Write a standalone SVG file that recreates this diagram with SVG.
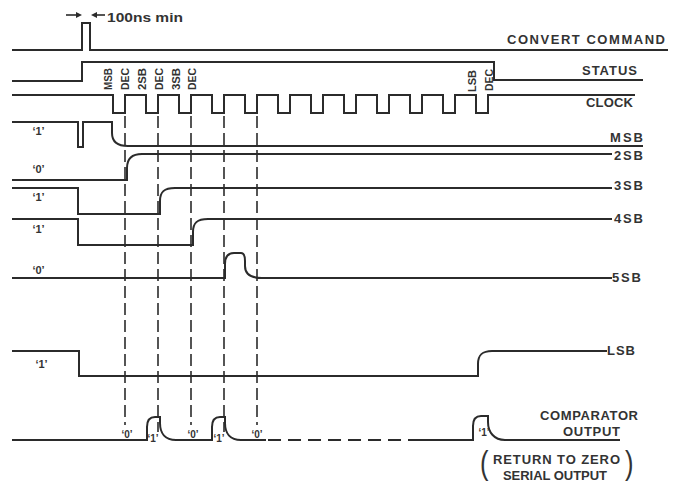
<svg xmlns="http://www.w3.org/2000/svg" width="677" height="483" viewBox="0 0 677 483">
<style>
.sig{fill:none;stroke:#2b2b2b;stroke-width:2;stroke-linejoin:miter}
.dash{fill:none;stroke:#2b2b2b;stroke-width:1.6;stroke-dasharray:12 5}
.dash2{fill:none;stroke:#2b2b2b;stroke-width:2;stroke-dasharray:13 7}
.lbl{font-family:"Liberation Sans",Arial,sans-serif;font-weight:bold;fill:#333;font-size:13px}
.sm{font-family:"Liberation Sans",Arial,sans-serif;font-weight:bold;fill:#333;font-size:11px}
.rot{font-family:"Liberation Sans",Arial,sans-serif;font-weight:bold;fill:#333;font-size:10px}
.cmp{font-family:"Liberation Sans",Arial,sans-serif;font-weight:bold;fill:#333;font-size:10px;text-anchor:middle}
.par{font-family:"Liberation Sans",Arial,sans-serif;fill:#333;font-size:34px}
</style>
<rect width="677" height="483" fill="#fff"/>

<g id="convert-command">
<path class="sig" d="M12,50 H82 V23 H90 V50 H668"/>
<line x1="66" y1="15" x2="77" y2="15" stroke="#2b2b2b" stroke-width="1.6"/>
<polygon points="76,12 82,15 76,18" fill="#2b2b2b"/>
<line x1="95" y1="15" x2="105" y2="15" stroke="#2b2b2b" stroke-width="1.6"/>
<polygon points="97,12 91,15 97,18" fill="#2b2b2b"/>
<text class="lbl" x="107" y="22" textLength="76" lengthAdjust="spacingAndGlyphs">100ns min</text>
<text class="lbl" x="507" y="44" textLength="158" lengthAdjust="spacing">CONVERT COMMAND</text>
</g>

<g id="status">
<path class="sig" d="M12,81 H82 V62 H494 V80 H643"/>
<text class="lbl" x="582" y="75" textLength="55" lengthAdjust="spacing">STATUS</text>
</g>

<g id="clock">
<path class="sig" d="M12,95 H113 V113 H125 V95 H146 V113 H158 V95 H179 V113 H191 V95 H212 V113 H224 V95 H245 V113 H257 V95 H278 V113 H290 V95 H311 V113 H323 V95 H344 V113 H356 V95 H377 V113 H389 V95 H410 V113 H422 V95 H443 V113 H455 V95 H476 V113 H488 V95 H635"/>
<text class="lbl" x="586" y="107" textLength="47" lengthAdjust="spacing">CLOCK</text>
<text class="rot" transform="translate(111.5,90) rotate(-90)" textLength="22" lengthAdjust="spacingAndGlyphs">MSB</text>
<text class="rot" transform="translate(128.5,90) rotate(-90)" textLength="22" lengthAdjust="spacingAndGlyphs">DEC</text>
<text class="rot" transform="translate(145.5,90) rotate(-90)" textLength="22" lengthAdjust="spacingAndGlyphs">2SB</text>
<text class="rot" transform="translate(162.5,90) rotate(-90)" textLength="22" lengthAdjust="spacingAndGlyphs">DEC</text>
<text class="rot" transform="translate(179.5,90) rotate(-90)" textLength="22" lengthAdjust="spacingAndGlyphs">3SB</text>
<text class="rot" transform="translate(195.5,90) rotate(-90)" textLength="22" lengthAdjust="spacingAndGlyphs">DEC</text>
<text class="rot" transform="translate(475.5,92) rotate(-90)" textLength="22" lengthAdjust="spacingAndGlyphs">LSB</text>
<text class="rot" transform="translate(492.5,91) rotate(-90)" textLength="22" lengthAdjust="spacingAndGlyphs">DEC</text>
</g>

<g id="msb">
<path class="sig" d="M12,122 H78 V147 H83 V122 H112 V133 C112,141 117,146 128,146 H643"/>
<text class="sm" x="38.5" y="135" text-anchor="middle">‘1’</text>
<text class="lbl" x="610" y="142" textLength="33" lengthAdjust="spacing">MSB</text>
</g>

<g id="sb2">
<path class="sig" d="M12,180 H127 V168 C127,159 131,154 142,154 H612"/>
<text class="sm" x="38.5" y="173" text-anchor="middle">‘0’</text>
<text class="lbl" x="614" y="160" textLength="29" lengthAdjust="spacing">2SB</text>
</g>

<g id="sb3">
<path class="sig" d="M12,188 H78 V214 H160 V201 C160,192 164,188 175,188 H612"/>
<text class="sm" x="38.5" y="201" text-anchor="middle">‘1’</text>
<text class="lbl" x="614" y="190" textLength="29" lengthAdjust="spacing">3SB</text>
</g>

<g id="sb4">
<path class="sig" d="M12,219 H78 V245 H193 V232 C193,223 197,219 208,219 H612"/>
<text class="sm" x="38.5" y="233" text-anchor="middle">‘1’</text>
<text class="lbl" x="614" y="223" textLength="29" lengthAdjust="spacing">4SB</text>
</g>

<g id="sb5">
<path class="sig" d="M12,278 H225 V264 C225,257 228,253 234,253 H241 Q245,253 245,261 V266 C245,274 250,278 262,278 H612"/>
<text class="sm" x="38.5" y="274" text-anchor="middle">‘0’</text>
<text class="lbl" x="612" y="282" textLength="29" lengthAdjust="spacing">5SB</text>
</g>

<g id="lsb">
<path class="sig" d="M12,351 H79 V376 H478 V364 C478,355 482,351 492,351 H607"/>
<text class="sm" x="41.5" y="368" text-anchor="middle">‘1’</text>
<text class="lbl" x="607" y="355" textLength="28" lengthAdjust="spacing">LSB</text>
</g>

<g id="comparator-output">
<path class="sig" d="M12,440 H147 V427 C147,420 150,417 155,417 H160 V423 C160,433 165,440 176,440 H212 V427 C212,420 215,417 220,417 H225 V423 C225,433 230,440 241,440 H266"/>
<path class="dash2" d="M268,440 H417"/>
<path class="sig" d="M417,440 H473 V426 C473,419 476,416 481,416 H488 V422 C488,432 494,440 505,440 H620"/>
<text class="cmp" x="127" y="438">‘0’</text>
<text class="cmp" x="153" y="442">‘1’</text>
<text class="cmp" x="193" y="438">‘0’</text>
<text class="cmp" x="219" y="442">‘1’</text>
<text class="cmp" x="257" y="438">‘0’</text>
<text class="cmp" x="484" y="436">‘1’</text>
<text class="lbl" x="540" y="420" textLength="98" lengthAdjust="spacing">COMPARATOR</text>
<text class="lbl" x="563" y="436" textLength="57" lengthAdjust="spacing">OUTPUT</text>
<text class="par" x="480" y="474" transform="translate(480,0) scale(0.75,1) translate(-480,0)">(</text>
<text class="lbl" x="493" y="464" textLength="127" lengthAdjust="spacing">RETURN TO ZERO</text>
<text class="lbl" x="503" y="480" textLength="104" lengthAdjust="spacing">SERIAL OUTPUT</text>
<text class="par" x="625" y="474" transform="translate(625,0) scale(0.75,1) translate(-625,0)">)</text>
</g>

<g id="connectors">
<path class="dash" d="M125,116 V425"/>
<path class="dash" d="M158,116 V432"/>
<path class="dash" d="M191,116 V425"/>
<path class="dash" d="M224,116 V432"/>
<path class="dash" d="M257,116 V425"/>
</g>
</svg>
